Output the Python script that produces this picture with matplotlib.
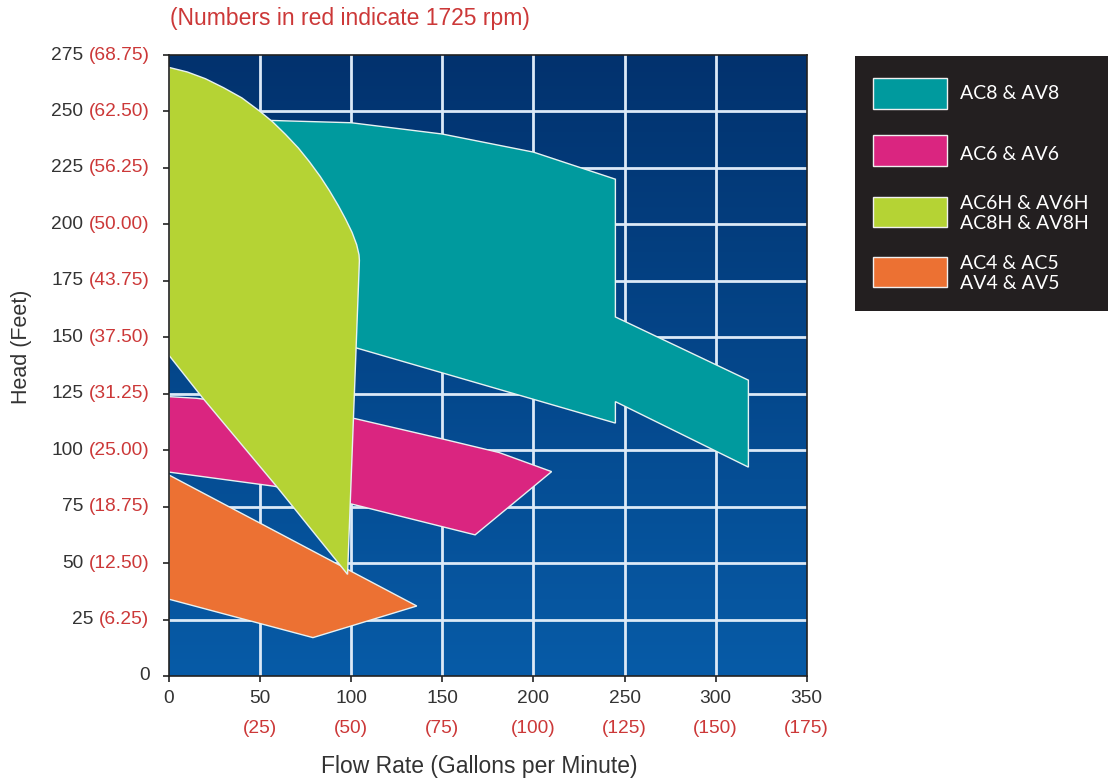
import numpy as np
import matplotlib
matplotlib.use("Agg")
import matplotlib.pyplot as plt
from matplotlib.patches import Polygon, Rectangle
from matplotlib.colors import LinearSegmentedColormap

plt.rcParams['font.family'] = ['Liberation Sans', 'DejaVu Sans']

##########################################
# operating ranges (flow in gpm, head in feet)
ac8_x = [40, 57, 100, 150, 200, 245, 245, 318, 318, 245, 245, 104, 40]
ac8_y = [246, 246, 245, 240, 232, 220, 159, 131, 92.5, 121.5, 112, 145, 160]

ac6_x = [0, 15, 102, 150, 181, 210, 168, 101, 58, 0]
ac6_y = [123.7, 123, 114, 105, 99, 90.5, 62.5, 76, 84, 90.3]

ac6h_x = [0, 10, 20, 30, 40, 50, 57, 64, 71, 77, 83, 88, 93, 97, 100.5, 103, 104.3, 104.5,
          98, 58.6, 18.6, 0]
ac6h_y = [269.5, 267.5, 264.5, 260.5, 256, 250, 245.3, 239.8, 233.8, 227.8, 221.2, 215,
          208.2, 202.2, 196.4, 191, 186.5, 184, 45, 84.4, 123, 142]

ac4_x = [0, 136, 79, 0]
ac4_y = [89, 31, 17, 34]

# axis ticks
flow_ticks = [0, 50, 100, 150, 200, 250, 300, 350]
flow_low = ["", "(25)", "(50)", "(75)", "(100)", "(125)", "(150)", "(175)"]
head_ticks = [0, 25, 50, 75, 100, 125, 150, 175, 200, 225, 250, 275]
head_low = ["", "(6.25)", "(12.50)", "(18.75)", "(25.00)", "(31.25)", "(37.50)",
            "(43.75)", "(50.00)", "(56.25)", "(62.50)", "(68.75)"]

legend_labels = ["AC8 & AV8", "AC6 & AV6", "AC6H & AV6H\nAC8H & AV8H", "AC4 & AC5\nAV4 & AV5"]

TEAL = "#009a9e"
PINK = "#da2580"
LIME = "#b5d334"
ORANGE = "#ec7133"
LOW_RED = "#cc3838"
DARK = "#333333"

##########################################
fig = plt.figure(figsize=(11.17, 7.8), dpi=100)
ax = fig.add_axes([169/1117, 1 - 676/780, 637.7/1117, 621/780])
ax.set_xlim(0, 350)
ax.set_ylim(0, 275)

# gradient background
grad = np.linspace(0, 1, 256).reshape(-1, 1)
bg_cmap = LinearSegmentedColormap.from_list("bg", ["#075ba7", "#02326e"])
ax.imshow(grad, cmap=bg_cmap, extent=[0, 350, 0, 275], origin="lower",
          aspect="auto", zorder=0)

# grid
for x in flow_ticks[1:-1]:
    ax.axvline(x, color="#dce9f7", lw=2, zorder=1)
for y in head_ticks[1:-1]:
    ax.axhline(y, color="#dce9f7", lw=2, zorder=1)

# regions (draw order matters - lime sits on top)
for xs, ys, col, z in [(ac8_x, ac8_y, TEAL, 2), (ac6_x, ac6_y, PINK, 2),
                       (ac4_x, ac4_y, ORANGE, 2), (ac6h_x, ac6h_y, LIME, 3)]:
    ax.add_patch(Polygon(np.column_stack([xs, ys]), closed=True, facecolor=col,
                         edgecolor="#e8f2f2", lw=1, zorder=z))

for sp in ax.spines.values():
    sp.set_color("#222222")
    sp.set_linewidth(1.2)
    sp.set_zorder(5)

ax.set_xticks(flow_ticks)
ax.set_yticks(head_ticks)
ax.set_xticklabels([])
ax.set_yticklabels([])
ax.tick_params(length=4, width=1.2, color="#222222", direction="out")

# y tick labels: black number + red 1725 rpm value
fs = 13.8
for y, low in zip(head_ticks, head_low):
    if low:
        red = ax.annotate(low, xy=(0, y), xycoords=ax.get_yaxis_transform(),
                          xytext=(-14, 0), textcoords="offset points",
                          ha="right", va="center", color=LOW_RED, fontsize=fs)
        ax.annotate(str(y), xy=(0, 0.5), xycoords=red, xytext=(-4, 0),
                    textcoords="offset points", ha="right", va="center",
                    color=DARK, fontsize=fs)
    else:
        ax.annotate(str(y), xy=(0, y), xycoords=ax.get_yaxis_transform(),
                    xytext=(-14, 0), textcoords="offset points",
                    ha="right", va="center", color=DARK, fontsize=fs)

# x tick labels
for x, low in zip(flow_ticks, flow_low):
    ax.annotate(str(x), xy=(x, 0), xycoords=ax.get_xaxis_transform(),
                xytext=(0, -16), textcoords="offset points",
                ha="center", va="center", color=DARK, fontsize=fs)
    if low:
        ax.annotate(low, xy=(x, 0), xycoords=ax.get_xaxis_transform(),
                    xytext=(0, -37.5), textcoords="offset points",
                    ha="center", va="center", color=LOW_RED, fontsize=fs)

fig.text(479/1117, 1 - 766/780, "Flow Rate (Gallons per Minute)", ha="center",
         va="center", fontsize=16.5, color=DARK)
fig.text(22/1117, 1 - 347/780, "Head (Feet)", ha="center", va="center",
         rotation=90, fontsize=15.5, color=DARK)
fig.text(170/1117, 1 - 18/780, "(Numbers in red indicate 1725 rpm)", ha="left",
         va="center", fontsize=16.5, color=LOW_RED)

##########################################
# legend box
lax = fig.add_axes([855/1117, 1 - 311/780, 253/1117, 255/780])
lax.set_facecolor("#231f20")
lax.set_xlim(0, 253)
lax.set_ylim(255, 0)
lax.set_xticks([])
lax.set_yticks([])
for sp in lax.spines.values():
    sp.set_visible(False)

sw_top = [22.3, 79, 140.7, 200.7]
txt_y = [37.3, 99, 157.5, 217.5]
for top, ty, lab, col in zip(sw_top, txt_y, legend_labels, [TEAL, PINK, LIME, ORANGE]):
    lax.add_patch(Rectangle((18, top), 74, 30.7, facecolor=col,
                            edgecolor="#f0f0f0", lw=1))
    lax.text(105, ty, lab, ha="left", va="center", color="white",
             fontsize=14, family=["Lato", "DejaVu Sans"], linespacing=1.15)

fig.savefig("out.png", dpi=100, facecolor="white")
